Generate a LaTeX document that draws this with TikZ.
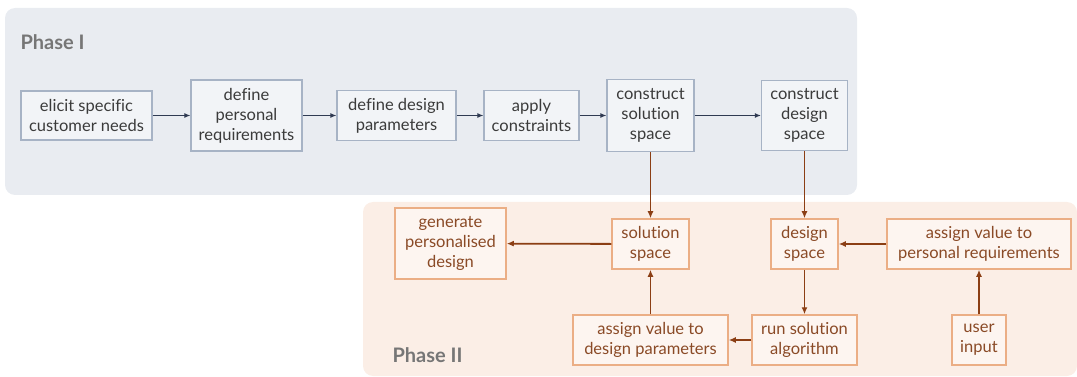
\documentclass[tikz,border=0pt]{standalone}
\usepackage{fontspec}
\setmainfont{Lato}[Ligatures={NoCommon}]
\usepackage{xcolor}
\usetikzlibrary{arrows.meta}

\definecolor{panelone}{HTML}{E9ECF1}
\definecolor{paneltwo}{HTML}{FBEEE6}
\definecolor{edgeone}{HTML}{A7B3C5}
\definecolor{edgetwo}{HTML}{EBAE85}
\definecolor{inkone}{HTML}{3B3B3B}
\definecolor{inktwo}{HTML}{8A4A26}
\definecolor{arrowone}{HTML}{2F3A52}
\definecolor{arrowtwo}{HTML}{8B3E14}
\definecolor{phasegray}{HTML}{767676}

\tikzset{
  p1box/.style={draw=edgeone, fill=panelone!60!white, line width=1.3pt,
    text=inkone, align=center, inner sep=2pt,
    font=\fontsize{16.5}{20}\selectfont},
  p2box/.style={draw=edgetwo, fill=paneltwo!60!white, line width=1.5pt,
    text=inktwo, align=center, inner sep=2pt,
    font=\fontsize{16.5}{20}\selectfont},
  p1arrow/.style={draw=arrowone, line width=1pt, -{Latex[length=6pt,width=5pt]}},
  p2arrow/.style={draw=arrowtwo, line width=1.8pt, -{Latex[length=7pt,width=6pt]}},
  phase/.style={text=phasegray, anchor=west, font=\fontsize{20}{20}\selectfont\bfseries}
}

\begin{document}
\begin{tikzpicture}[x=1pt, y=-1pt]
    \useasboundingbox (0,0) rectangle (1077,377);
    % panels
    \fill[panelone, rounded corners=10pt] (5,8) rectangle (857,195);
    \fill[paneltwo, rounded corners=10pt] (363,202) rectangle (1077,376);
    \node[phase] (phaseone) at (17,42) {Phase I};
    \node[phase] (phasetwo) at (389,355) {Phase II};

    % phase I
    \node[p1box, minimum width=131pt, minimum height=49pt] (cust) at (86.5,115.5) {elicit specific\\customer needs};
    \node[p1box, minimum width=111pt, minimum height=71pt] (preq) at (246.5,115.5) {define\\personal\\requirements};
    \node[p1box, minimum width=119pt, minimum height=50pt] (dpar) at (396.5,115.5) {define design\\parameters};
    \node[p1box, minimum width=95pt, minimum height=50pt] (cons) at (531.5,115.5) {apply\\constraints};
    \node[p1box, minimum width=87pt, minimum height=72pt] (csol) at (650.5,115.5) {construct\\solution\\space};
    \node[p1box, minimum width=86pt, minimum height=70pt] (cdes) at (804.5,115.5) {construct\\design\\space};

    % phase II
    \node[p2box, minimum width=111pt, minimum height=71pt] (gen) at (450.5,243.5) {generate\\personalised\\design};
    \node[p2box, minimum width=77pt, minimum height=50pt] (sol) at (650.5,244) {solution\\space};
    \node[p2box, minimum width=155pt, minimum height=50pt] (adp) at (650.5,340) {assign value to\\design parameters};
    \node[p2box, minimum width=67pt, minimum height=50pt] (des) at (804.5,244) {design\\space};
    \node[p2box, minimum width=184pt, minimum height=50pt] (apr) at (979,244) {assign value to\\personal requirements};
    \node[p2box, minimum width=105pt, minimum height=50pt] (run) at (804.5,340) {run solution\\algorithm};
    \node[p2box, minimum width=54pt, minimum height=50pt] (user) at (979,340) {user\\input};

    \draw[p1arrow] (cust) -- (preq);
    \draw[p1arrow] (preq) -- (dpar);
    \draw[p1arrow] (dpar) -- (cons);
    \draw[p1arrow] (cons) -- (csol);
    \draw[p1arrow] (csol) -- (cdes);

    \draw[p2arrow] (csol) -- (sol);
    \draw[p2arrow] (cdes) -- (des);
    \draw[p2arrow] (sol) -- (gen);
    \draw[p2arrow] (apr) -- (des);
    \draw[p2arrow] (user) -- (apr);
    \draw[p2arrow] (des) -- (run);
    \draw[p2arrow] (run) -- (adp);
    \draw[p2arrow] (adp) -- (sol);
\end{tikzpicture}
\end{document}
